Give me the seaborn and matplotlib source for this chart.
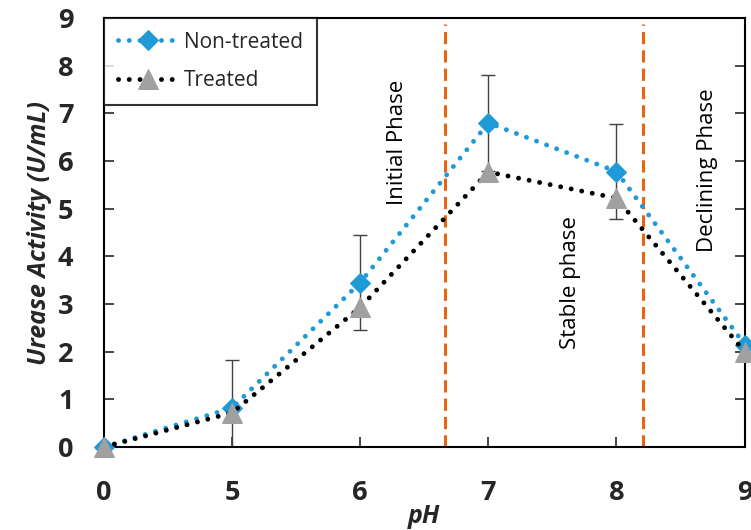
import matplotlib
matplotlib.use("Agg")
import matplotlib.pyplot as plt
import seaborn as sns
import numpy as np
import pandas as pd

ph_labels = ["0", "5", "6", "7", "8", "9"]
non_treated = [0.0, 0.82, 3.45, 6.80, 5.78, 2.15]
treated = [0.0, 0.72, 2.93, 5.77, 5.22, 2.00]
non_treated_err = [0.0, 1.0, 1.0, 1.0, 1.0, 0.0]
phase_lines = [2.66, 4.21]

sns.set_theme(style="white")
plt.rcParams['font.family'] = ['Open Sans', 'DejaVu Sans']

fig = plt.figure(figsize=(7.51, 5.30), dpi=100)
ax = fig.add_axes([0.1385, 0.1566, 0.853, 0.8094])

pos = np.arange(len(ph_labels))
df = pd.DataFrame({"pos": np.concatenate([pos, pos]),
                   "val": non_treated + treated,
                   "series": ["Non-treated"] * len(pos) + ["Treated"] * len(pos)})

blue = "#1F9AD6"
gray = "#A0A0A0"

lower = [min(e, v) for e, v in zip(non_treated_err, non_treated)]
ax.errorbar(pos[1:5], np.array(non_treated)[1:5],
            yerr=[np.array(lower)[1:5], np.array(non_treated_err)[1:5]],
            fmt='none', ecolor='#404040', elinewidth=1.0, capsize=5, capthick=1.0, zorder=2)

dot = (0, (0.01, 2.2))
sns.lineplot(data=df[df.series == "Non-treated"], x="pos", y="val", ax=ax,
             color=blue, linewidth=3.5, linestyle=dot,
             marker='D', markersize=10.5, markeredgecolor=blue, markerfacecolor=blue,
             label="Non-treated", zorder=3, clip_on=False)
sns.lineplot(data=df[df.series == "Treated"], x="pos", y="val", ax=ax,
             color="black", linewidth=3.5, linestyle=dot,
             marker='^', markersize=14, markeredgecolor=gray, markerfacecolor=gray,
             label="Treated", zorder=4, clip_on=False)
for ln in ax.get_lines():
    ln.set_dash_capstyle('round')

for xv in phase_lines:
    ax.axvline(xv, ymin=0, ymax=0.985, color="#E8650F", linestyle=(0, (4, 2)), linewidth=2.2, zorder=1)

ax.text(2.29, 6.4, "Initial Phase", rotation=90, ha='center', va='center', fontsize=16, color='black')
ax.text(3.64, 3.45, "Stable phase", rotation=90, ha='center', va='center', fontsize=16, color='black')
ax.text(4.71, 5.8, "Declining Phase", rotation=90, ha='center', va='center', fontsize=16, color='black')

ax.set_xlim(0, 5)
ax.set_ylim(0, 9)
ax.set_xticks(pos)
ax.set_xticklabels(ph_labels)
ax.set_yticks(range(0, 10))
ax.tick_params(axis='both', direction='in', length=7, width=1.2, labelsize=19.5,
               left=True, bottom=True, right=True)
ax.tick_params(axis='x', pad=24)
ax.tick_params(axis='y', pad=22)
for lab in ax.get_xticklabels() + ax.get_yticklabels():
    lab.set_fontweight('bold')

for sp in ax.spines.values():
    sp.set_color('black')
    sp.set_linewidth(1.5)

ax.set_xlabel("pH", fontsize=18, fontweight='bold', fontstyle='italic', labelpad=-2)
ax.set_ylabel("Urease Activity (U/mL)", fontsize=18, fontweight='bold', fontstyle='italic', labelpad=4)

leg = ax.legend(loc='upper left', frameon=True, fontsize=15, fancybox=False,
                edgecolor='black', borderaxespad=0, handlelength=2.9, borderpad=0.65,
                labelspacing=0.85, handletextpad=0.3)
leg.get_frame().set_linewidth(1.5)
leg.set_zorder(10)

fig.savefig("out.png", dpi=100)
